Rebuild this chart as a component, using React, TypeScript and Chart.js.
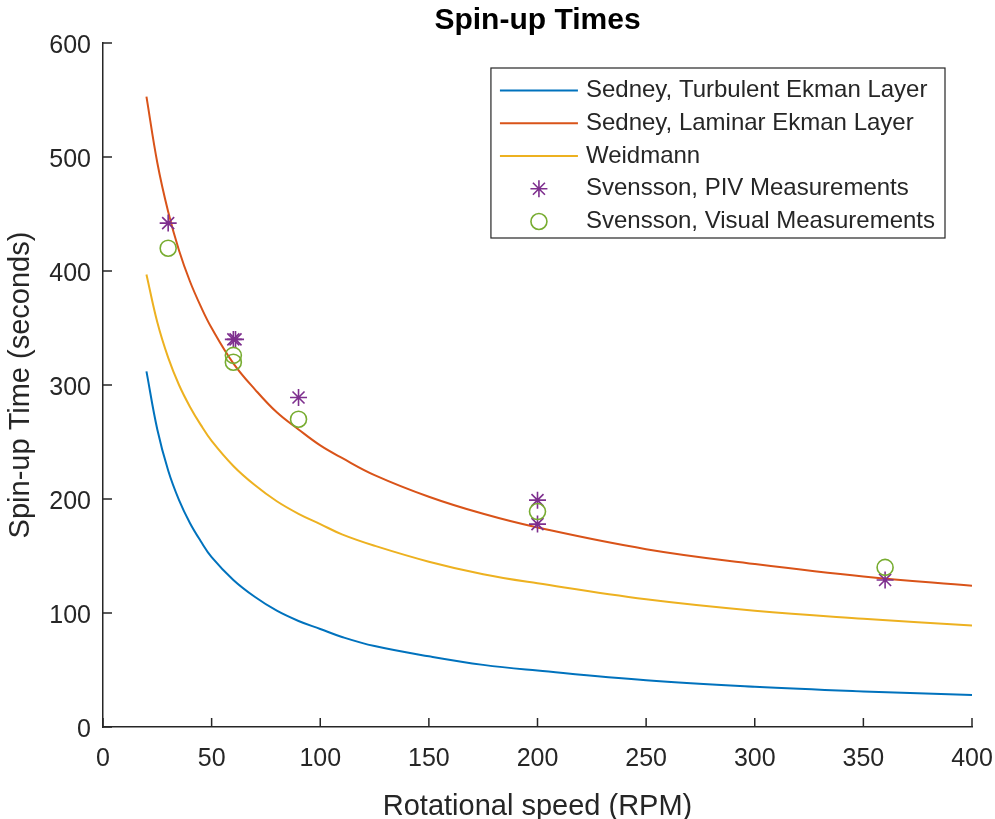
import React, { useEffect, useRef } from "react";
import { Chart, registerables } from "chart.js";

Chart.register(...registerables);

const FONT = '"Liberation Sans", Arial, Helvetica, sans-serif';
const AXIS_COLOR = "#262626";

// Title and axis labels
const chartTitle = "Spin-up Times";
const xAxisTitle = "Rotational speed (RPM)";
const yAxisTitle = "Spin-up Time (seconds)";

// Series labels
const seriesLabels = [
  "Sedney, Turbulent Ekman Layer",
  "Sedney, Laminar Ekman Layer",
  "Weidmann",
  "Svensson, PIV Measurements",
  "Svensson, Visual Measurements",
];

// Model curves
const curveRpm = [20, 25, 30, 35, 40, 45, 50, 60, 70, 80, 90, 100, 110, 125, 150, 175, 200, 250, 300, 350, 400];
const turbulentTimes = [312, 261, 225, 199, 179, 163, 149, 129, 114, 102, 93, 86, 79, 71, 62, 54.5, 49.5, 41, 35.3, 31.2, 28];
const laminarTimes = [553, 495, 452, 418, 391, 369, 350, 319, 296, 276, 261, 247, 236, 221, 202, 187, 175, 156, 143, 132, 124];
const weidmannTimes = [397, 355, 324, 300, 281, 265, 251, 229, 212, 198, 187, 178, 169, 159, 145, 134, 126, 112, 102, 95, 89];

// Measurements
const pivRpm = [30, 60, 61, 90, 200, 200, 360];
const pivTimes = [442, 340, 340, 289, 199, 178, 129];
const visualRpm = [30, 60, 60, 90, 200, 360];
const visualTimes = [420, 326, 320, 270, 189, 140];

// Axis ranges / ticks
const xMin = 0, xMax = 400, xStep = 50;
const yMin = 0, yMax = 600, yStep = 100;

const seriesColors = ["#0072BD", "#D95319", "#EDB120", "#7E2F8E", "#77AC30"];

const toPoints = (xs: number[], ys: number[]) => xs.map((x, i) => ({ x, y: ys[i] }));

const matlabPlugin = {
  id: "matlabDecor",
  afterDraw(chart: any) {
    const { ctx, chartArea, scales } = chart;
    ctx.save();

    // title centred over the axes
    ctx.fillStyle = "#000000";
    ctx.font = `bold 30px ${FONT}`;
    ctx.textAlign = "center";
    ctx.textBaseline = "alphabetic";
    ctx.fillText(chartTitle, (chartArea.left + chartArea.right) / 2, 28.5);

    // inward tick marks
    ctx.strokeStyle = AXIS_COLOR;
    ctx.lineWidth = 1.5;
    const tl = 9;
    scales.x.ticks.forEach((t: any) => {
      const px = scales.x.getPixelForValue(t.value);
      ctx.beginPath();
      ctx.moveTo(px, chartArea.bottom);
      ctx.lineTo(px, chartArea.bottom - tl);
      ctx.stroke();
    });
    scales.y.ticks.forEach((t: any) => {
      const py = scales.y.getPixelForValue(t.value);
      ctx.beginPath();
      ctx.moveTo(chartArea.left, py);
      ctx.lineTo(chartArea.left + tl, py);
      ctx.stroke();
    });

    // legend box
    ctx.font = `24px ${FONT}`;
    const datasets = chart.data.datasets;
    let maxW = 0;
    datasets.forEach((d: any) => {
      maxW = Math.max(maxW, ctx.measureText(d.label).width);
    });
    const textOffset = 95;
    const boxW = textOffset + maxW + 10;
    const rowH = 32.75;
    const boxH = 170;
    const right = chartArea.right - 27;
    const top = chartArea.top + 25;
    const left = right - boxW;
    ctx.fillStyle = "#ffffff";
    ctx.fillRect(left, top, boxW, boxH);
    ctx.strokeStyle = AXIS_COLOR;
    ctx.lineWidth = 1.2;
    ctx.strokeRect(left, top, boxW, boxH);

    datasets.forEach((d: any, i: number) => {
      const cy = top + 22.5 + i * rowH;
      const x0 = left + 9;
      const x1 = left + 87;
      const cx = (x0 + x1) / 2;
      ctx.strokeStyle = d.borderColor;
      if (d.showLine) {
        ctx.lineWidth = 2;
        ctx.beginPath();
        ctx.moveTo(x0, cy);
        ctx.lineTo(x1, cy);
        ctx.stroke();
      } else if (d.pointStyle === "star") {
        const r = d.pointRadius;
        const q = r * Math.SQRT1_2;
        ctx.lineWidth = d.pointBorderWidth;
        ctx.beginPath();
        ctx.moveTo(cx - r, cy); ctx.lineTo(cx + r, cy);
        ctx.moveTo(cx, cy - r); ctx.lineTo(cx, cy + r);
        ctx.moveTo(cx - q, cy - q); ctx.lineTo(cx + q, cy + q);
        ctx.moveTo(cx - q, cy + q); ctx.lineTo(cx + q, cy - q);
        ctx.stroke();
      } else {
        ctx.lineWidth = d.pointBorderWidth;
        ctx.beginPath();
        ctx.arc(cx, cy, d.pointRadius, 0, Math.PI * 2);
        ctx.stroke();
      }
      ctx.fillStyle = AXIS_COLOR;
      ctx.textAlign = "left";
      ctx.textBaseline = "middle";
      ctx.fillText(d.label, left + textOffset, cy);
    });
    ctx.restore();
  },
};

export default function App() {
  const canvasRef = useRef<HTMLCanvasElement | null>(null);

  useEffect(() => {
    if (!canvasRef.current) return;
    Chart.defaults.font.family = FONT;
    const lineDs = (label: string, ys: number[], color: string, order: number) => ({
      label,
      data: toPoints(curveRpm, ys),
      showLine: true,
      borderColor: color,
      backgroundColor: color,
      borderWidth: 2,
      pointRadius: 0,
      pointHoverRadius: 0,
      tension: 0.4,
      order,
    });
    const chart = new Chart(canvasRef.current, {
      type: "scatter",
      data: {
        datasets: [
          lineDs(seriesLabels[0], turbulentTimes, seriesColors[0], 5),
          lineDs(seriesLabels[1], laminarTimes, seriesColors[1], 4),
          lineDs(seriesLabels[2], weidmannTimes, seriesColors[2], 3),
          {
            label: seriesLabels[3],
            data: toPoints(pivRpm, pivTimes),
            showLine: false,
            pointStyle: "star",
            pointRadius: 8.5,
            pointBorderWidth: 1.6,
            borderColor: seriesColors[3],
            pointBorderColor: seriesColors[3],
            backgroundColor: "rgba(0,0,0,0)",
            pointBackgroundColor: "rgba(0,0,0,0)",
            order: 2,
          } as any,
          {
            label: seriesLabels[4],
            data: toPoints(visualRpm, visualTimes),
            showLine: false,
            pointStyle: "circle",
            pointRadius: 8,
            pointBorderWidth: 1.6,
            borderColor: seriesColors[4],
            pointBorderColor: seriesColors[4],
            backgroundColor: "rgba(0,0,0,0)",
            pointBackgroundColor: "rgba(0,0,0,0)",
            order: 1,
          } as any,
        ],
      },
      options: {
        responsive: false,
        animation: false,
        layout: { padding: { left: 0, right: 23, top: 43, bottom: 0 } },
        plugins: {
          legend: { display: false },
          tooltip: { enabled: false },
          title: { display: false },
        },
        scales: {
          x: {
            type: "linear",
            min: xMin,
            max: xMax,
            ticks: {
              stepSize: xStep,
              color: AXIS_COLOR,
              font: { size: 25, family: FONT },
              padding: 17,
              maxRotation: 0,
            },
            grid: { display: true, drawOnChartArea: false, drawTicks: false },
            border: { display: true, color: AXIS_COLOR, width: 1.5 },
            title: {
              display: true,
              text: xAxisTitle,
              color: AXIS_COLOR,
              font: { size: 29, family: FONT, lineHeight: 0.8 },
              padding: { top: 0, bottom: 0 },
            },
            afterFit: (scale: any) => {
              scale.height = 92;
              scale.paddingRight = 20;
              scale.paddingLeft = 5;
            },
          },
          y: {
            type: "linear",
            min: yMin,
            max: yMax,
            ticks: {
              stepSize: yStep,
              color: AXIS_COLOR,
              font: { size: 25, family: FONT },
              padding: 12,
              labelOffset: 3,
            },
            grid: { display: true, drawOnChartArea: false, drawTicks: false },
            border: { display: true, color: AXIS_COLOR, width: 1.5 },
            title: {
              display: true,
              text: yAxisTitle,
              color: AXIS_COLOR,
              font: { size: 29, family: FONT },
              padding: { top: 4, bottom: 0 },
            },
            afterFit: (scale: any) => {
              scale.width = 103;
              scale.paddingTop = 10;
              scale.paddingBottom = 10;
            },
          },
        },
      },
      plugins: [matlabPlugin],
    } as any);
    return () => chart.destroy();
  }, []);

  return (
    <div style={{ position: "fixed", left: 0, top: 0, width: 995, height: 819, background: "#ffffff" }}>
      <canvas ref={canvasRef} width={995} height={819} style={{ display: "block" }} />
    </div>
  );
}
